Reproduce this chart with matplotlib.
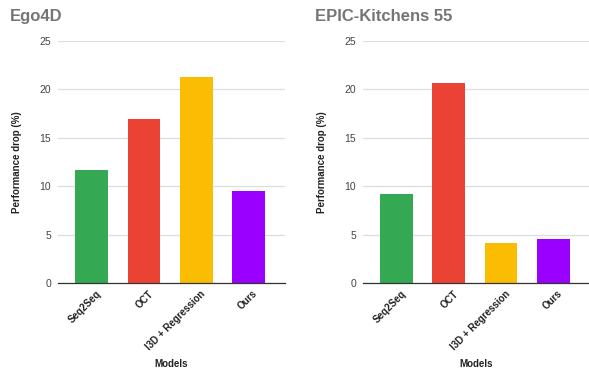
import numpy as np
import matplotlib.pyplot as plt
import matplotlib.transforms as mtransforms

plt.rcParams['font.family'] = ['Liberation Sans', 'DejaVu Sans']

models = ['Seq2Seq', 'OCT', 'I3D + Regression', 'Ours']
ego4d = [11.7, 16.9, 21.3, 9.5]
epic55 = [9.2, 20.7, 4.1, 4.5]
colors = ['#34A853', '#EA4335', '#FBBC04', '#9900FF']

fig = plt.figure(figsize=(5.89, 3.70), dpi=100)

panels = [
    ('Ego4D', ego4d, 0.0985),
    ('EPIC-Kitchens 55', epic55, 0.616),
]

for title, vals, left in panels:
    ax = fig.add_axes([left, 0.235, 0.385, 0.654])
    x = np.arange(len(models))
    ax.bar(x, vals, width=0.63, color=colors, zorder=3)
    ax.set_ylim(0, 25)
    ax.set_xlim(-0.65, 3.7)
    ax.set_yticks([0, 5, 10, 15, 20, 25])
    ax.yaxis.grid(True, color='#dddddd', linewidth=0.9, zorder=0)
    for s in ['top', 'right', 'left']:
        ax.spines[s].set_visible(False)
    ax.spines['bottom'].set_color('#333333')
    ax.spines['bottom'].set_linewidth(0.9)
    ax.spines['bottom'].set_zorder(4)
    ax.tick_params(axis='both', length=0)
    ax.tick_params(axis='y', labelsize=7.5, labelcolor='#444444', pad=5)
    ax.set_xticks(x)
    ax.set_xticklabels(models, rotation=45, ha='right', rotation_mode='anchor',
                       fontsize=7, fontweight='bold', color='#222222')
    ax.tick_params(axis='x', pad=4)
    # nudge rotated labels a little to the right
    shift = mtransforms.ScaledTranslation(3 / 72, 0, fig.dpi_scale_trans)
    for lbl in ax.get_xticklabels():
        lbl.set_transform(lbl.get_transform() + shift)
    ax.set_ylabel('Performance drop (%)', fontsize=7, fontweight='bold',
                  color='#222222')
    ax.yaxis.set_label_coords(-0.18, 0.5)
    ax.yaxis.label.set_va('center')
    ax.set_xlabel('Models', fontsize=7, fontweight='bold', color='#222222')
    ax.xaxis.set_label_coords(0.5, -0.335)
    ax.xaxis.label.set_va('center')
    fig.text(left - 0.082, 0.955, title, fontsize=12, fontweight='bold',
             color='#757575', va='center', ha='left')

fig.savefig('out.png', dpi=100)
